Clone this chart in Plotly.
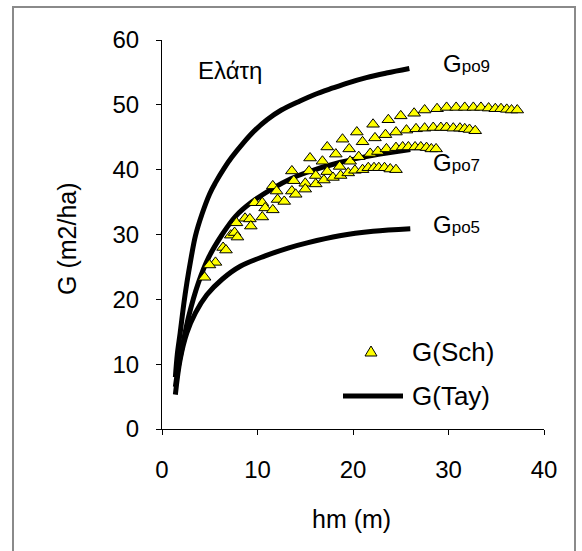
import plotly.graph_objects as go

# Basal area G (m2/ha) against mean height hm (m) for fir (Ελάτη):
# Taylor curves for three site classes and Schober yield-table values.

# --- Taylor curves G(Tay) ---
hm_po9 = [1.4, 1.6, 1.9, 2.3, 2.6, 3.0, 3.5, 4.2, 5.0, 5.6, 6.5, 7.3, 8.5,
          9.75, 11.0, 12.5, 14.45, 16.0, 17.9, 19.5, 21.4, 23.5, 25.9]
g_po9 = [8.0, 11.5, 14.8, 19.5, 22.5, 26.0, 29.8, 33.2, 36.3, 38.0, 40.2,
         41.9, 44.1, 46.1, 47.7, 49.2, 50.6, 51.6, 52.6, 53.4, 54.2, 54.9, 55.6]

hm_po7 = [1.4, 1.7, 2.1, 2.8, 3.8, 4.9, 6.3, 7.7, 9.4, 11.7, 13.5, 15.2,
          18.6, 22.1, 26.0]
g_po7 = [6.5, 9.5, 12.5, 17.4, 22.5, 26.5, 30.0, 32.8, 35.0, 37.2, 38.6,
         39.6, 41.1, 42.2, 43.1]

hm_po5 = [1.4, 1.9, 2.6, 3.5, 4.7, 6.3, 8.2, 10.8, 13.2, 15.2, 18.6, 22.1, 26.0]
g_po5 = [5.3, 10.7, 14.8, 17.9, 20.7, 23.1, 25.1, 26.7, 27.9, 28.7, 29.8,
         30.5, 30.9]

# --- Yield-table values G(Sch), four site classes ---
hm_sch1 = [5.6, 7.8, 9.7, 11.6, 13.6, 15.5, 17.3, 18.9, 20.4, 22.1, 23.7, 25.0,
           26.4, 27.5, 28.8, 29.8, 30.8, 31.7, 32.6, 33.4, 34.2, 34.9, 35.5,
           36.1, 36.6, 37.2]
g_sch1 = [25.7, 31.8, 34.9, 37.5, 39.8, 41.8, 43.5, 44.7, 45.8, 47.0, 47.7, 48.3,
          48.7, 49.2, 49.4, 49.6, 49.6, 49.6, 49.6, 49.6, 49.5, 49.4, 49.4,
          49.3, 49.2, 49.2]

hm_sch2 = [4.97, 7.2, 8.7, 10.5, 12.0, 13.8, 15.4, 16.8, 18.2, 19.6, 21.0, 22.3,
           23.4, 24.5, 25.6, 26.6, 27.5, 28.4, 29.2, 29.8, 30.5, 31.2, 31.7,
           32.2, 32.8]
g_sch2 = [25.3, 29.9, 32.5, 34.9, 36.7, 38.3, 39.8, 41.3, 42.4, 43.2, 44.3, 44.9,
          45.4, 45.8, 46.1, 46.3, 46.4, 46.5, 46.5, 46.5, 46.4, 46.4, 46.3,
          46.2, 46.0]

hm_sch3 = [4.46, 6.4, 7.6, 9.2, 10.8, 12.1, 13.6, 15.0, 16.1, 17.3, 18.6, 19.7,
           20.6, 21.8, 22.6, 23.5, 24.5, 25.2, 25.8, 26.5, 27.1, 27.7, 28.2, 28.7]
g_sch3 = [23.4, 28.0, 30.3, 32.4, 34.1, 35.4, 36.7, 37.9, 39.1, 39.7, 40.5, 41.3,
          42.0, 42.5, 42.8, 43.2, 43.4, 43.5, 43.5, 43.5, 43.5, 43.4, 43.2, 43.2]

hm_sch4 = [6.7, 7.9, 9.3, 10.5, 11.6, 12.8, 14.0, 15.0, 16.1, 16.95, 17.9, 18.7,
           19.5, 20.2, 21.0, 21.6, 22.2, 22.7, 23.3, 23.9, 24.5]
g_sch4 = [27.6, 29.6, 31.3, 32.7, 33.8, 35.1, 36.2, 37.0, 37.8, 38.4, 38.8, 39.1,
          39.5, 39.9, 40.0, 40.3, 40.3, 40.3, 40.3, 40.1, 40.0]

curve_labels = ["po9", "po7", "po5"]
x_ticks = [0, 10, 20, 30, 40]
y_ticks = [0, 10, 20, 30, 40, 50, 60]

FONT = "Liberation Sans, Arial, sans-serif"
W, H = 582, 551
L, R, T, B = 162, 38, 40, 122
PW, PH = W - L - R, H - T - B


def px(xp):
    """page x pixel -> paper coordinate"""
    return (xp - L) / PW


def py(yp):
    """page y pixel -> paper coordinate"""
    return (H - B - yp) / PH


fig = go.Figure()

for h, g in ((hm_po9, g_po9), (hm_po7, g_po7), (hm_po5, g_po5)):
    fig.add_trace(go.Scatter(
        x=h, y=g, mode="lines",
        line=dict(color="black", width=5, shape="spline", smoothing=1.0),
        showlegend=False, hoverinfo="skip"))

for h, g in ((hm_sch1, g_sch1), (hm_sch2, g_sch2),
             (hm_sch3, g_sch3), (hm_sch4, g_sch4)):
    fig.add_trace(go.Scatter(
        x=h, y=g, mode="markers",
        marker=dict(symbol="triangle-up", size=11, color="#FFFF00",
                    line=dict(color="black", width=1)),
        showlegend=False, hoverinfo="skip"))

axis_common = dict(
    showline=True, linecolor="black", linewidth=1,
    ticks="outside", ticklen=5, tickcolor="black", tickwidth=1,
    showgrid=False, zeroline=False,
    tickfont=dict(family=FONT, size=24, color="black"),
)
fig.update_xaxes(range=[0, 40], tickvals=x_ticks, ticklabelstandoff=14,
                 **axis_common)
fig.update_yaxes(range=[0, 60], tickvals=y_ticks, ticklabelstandoff=12,
                 **axis_common)

annotations = [
    dict(text="G (m2/ha)", x=px(67), y=py(239), textangle=-90,
         font=dict(size=25)),
    dict(text="hm (m)", x=px(351), y=py(519), font=dict(size=25)),
    dict(text="Ελάτη", x=px(196), y=py(70), xanchor="left",
         font=dict(size=24)),
    dict(text="G(Sch)", x=px(410), y=py(352), xanchor="left",
         font=dict(size=26)),
    dict(text="G(Tay)", x=px(410), y=py(396), xanchor="left",
         font=dict(size=26)),
]
for lab, (lx, ly) in zip(curve_labels, [(441, 63), (431, 162), (431, 224)]):
    annotations.append(dict(
        text=f"G<span style='font-size:17px'>{lab}</span>",
        x=px(lx), y=py(ly), xanchor="left", font=dict(size=24)))

for a in annotations:
    a.setdefault("xanchor", "center")
    a.update(xref="paper", yref="paper", yanchor="middle", showarrow=False)
    a["font"] = dict(family=FONT, color="black", **a["font"])

shapes = [
    # outer frame
    dict(type="rect", xref="paper", yref="paper",
         x0=px(13), x1=px(575), y0=py(7), y1=py(575),
         line=dict(color="#8a8a8a", width=2), fillcolor="rgba(0,0,0,0)",
         layer="below"),
    # legend key: triangle
    dict(type="path", xref="paper", yref="paper",
         xsizemode="pixel", ysizemode="pixel",
         xanchor=px(371), yanchor=py(352),
         path="M -6,-4 L 6,-4 L 0,6 Z",
         fillcolor="#FFFF00", line=dict(color="black", width=1)),
    # legend key: line
    dict(type="line", xref="paper", yref="paper",
         x0=px(343), x1=px(403), y0=py(396), y1=py(396),
         line=dict(color="black", width=5)),
]

fig.update_layout(
    width=W, height=H,
    margin=dict(l=L, r=R, t=T, b=B, autoexpand=False),
    paper_bgcolor="white", plot_bgcolor="white",
    font=dict(family=FONT, color="black"),
    showlegend=False,
    annotations=annotations,
    shapes=shapes,
)

fig.write_html("out.html")
